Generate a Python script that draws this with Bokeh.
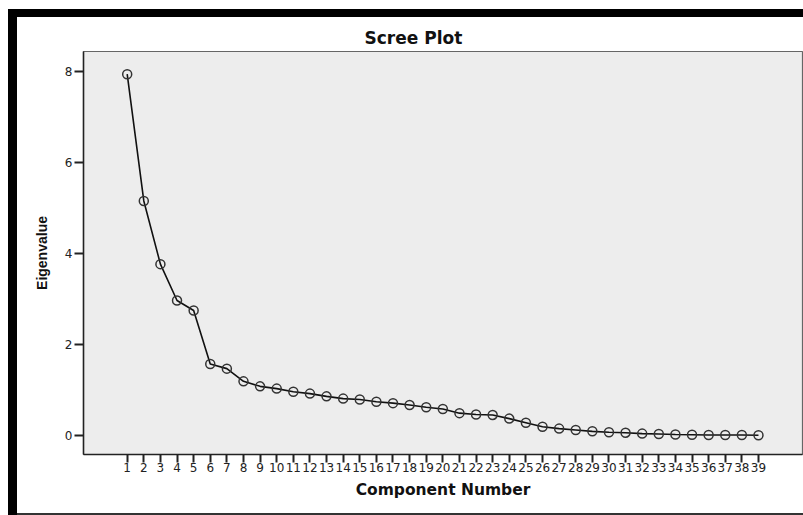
from bokeh.plotting import figure
from bokeh.layouts import row, column
from bokeh.models import FixedTicker, Spacer, Title
from bokeh.embed import file_html
from bokeh.resources import INLINE

components = list(range(1, 40))
eigenvalues = [7.95, 5.16, 3.77, 2.97, 2.75, 1.57, 1.47, 1.19, 1.08, 1.03,
               0.96, 0.92, 0.86, 0.81, 0.79, 0.74, 0.71, 0.67, 0.62, 0.58,
               0.49, 0.46, 0.45, 0.37, 0.28, 0.19, 0.15, 0.12, 0.09, 0.07,
               0.06, 0.04, 0.03, 0.02, 0.015, 0.01, 0.01, 0.008, 0.005]
y_ticks = [0, 2, 4, 6, 8]

WIDE = "DejaVu Sans"
NARROW = "Liberation Sans"

p = figure(width=786, height=496, output_backend="svg", toolbar_location=None,
           x_range=(-1.63, 41.65), y_range=(-0.42, 8.45),
           min_border_left=66, min_border_right=1, min_border_top=34, min_border_bottom=59,
           background_fill_color="#ededed", border_fill_color="white")

t = Title(text="Scree Plot", align="left", offset=281, text_font=WIDE,
          text_font_size="17px", text_font_style="bold", text_color="#111111", standoff=8)
p.add_layout(t, "above")

p.line(components, eigenvalues, line_color="#111111", line_width=1.6)
p.scatter(components, eigenvalues, marker="circle", size=9, fill_color=None,
          line_color="#333333", line_width=1.5)

p.outline_line_color = "#666666"
p.outline_line_width = 1.2
p.grid.visible = False

p.xaxis.ticker = FixedTicker(ticks=components)
p.yaxis.ticker = FixedTicker(ticks=y_ticks)
p.xaxis.minor_tick_line_color = None
p.yaxis.minor_tick_line_color = None

for ax in (p.xaxis[0], p.yaxis[0]):
    ax.axis_line_color = "#222222"
    ax.axis_line_width = 1.5
    ax.major_tick_line_color = "#222222"
    ax.major_tick_line_width = 2
    ax.major_tick_in = 0
    ax.major_label_text_font = WIDE
    ax.major_label_text_font_size = "12px"
    ax.major_label_text_color = "#222222"
    ax.axis_label_text_font_style = "bold"
    ax.axis_label_text_color = "#111111"

p.xaxis.major_tick_out = 8
p.yaxis.major_tick_out = 9

p.xaxis.axis_label = "Component Number"
p.xaxis.axis_label_text_font = WIDE
p.xaxis.axis_label_text_font_size = "15.5px"
p.xaxis.major_label_standoff = 0
p.xaxis.axis_label_standoff = 6

p.yaxis.axis_label = "Eigenvalue"
p.yaxis.axis_label_text_font = NARROW
p.yaxis.axis_label_text_font_size = "14px"
p.yaxis.major_label_standoff = 2
p.yaxis.axis_label_standoff = 12

# page frame: white margin, thick black top/left bars, thin bottom line
top_gap = Spacer(width=803, height=9)
left_gap = Spacer(width=8, height=506)
left_bar = Spacer(width=9, height=506, styles={"background-color": "black"})
top_bar = Spacer(width=786, height=8, styles={"background-color": "black"})
bottom_bar = Spacer(width=786, height=2, styles={"background-color": "#333333"})

layout = column(top_gap,
                row(left_gap, left_bar, column(top_bar, p, bottom_bar, spacing=0), spacing=0),
                spacing=0)

open("out.html", "w").write(file_html(layout, INLINE))
